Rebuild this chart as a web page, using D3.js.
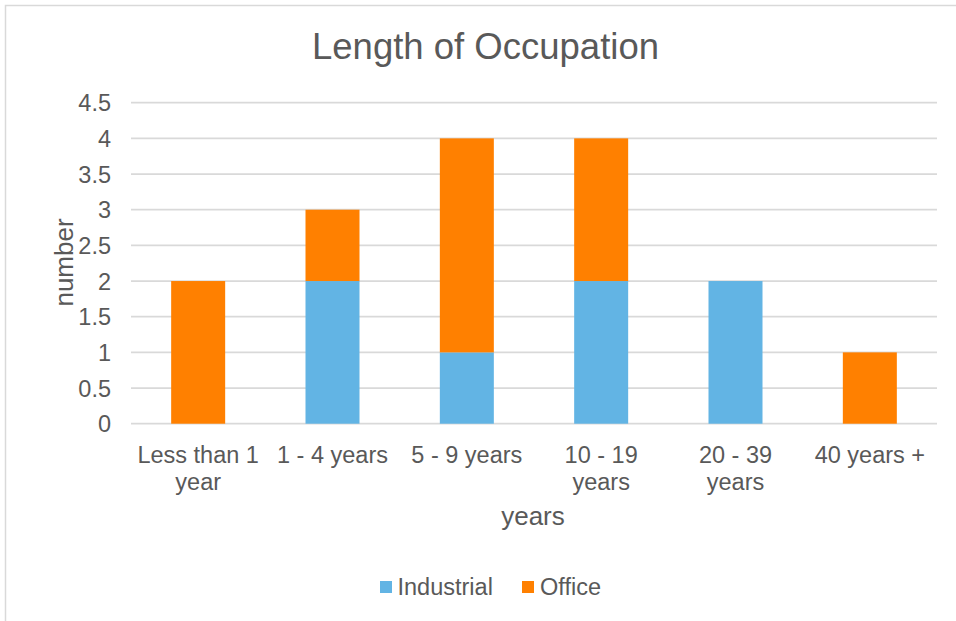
<!DOCTYPE html>
<html>
<head>
<meta charset="utf-8">
<script src="https://cdn.jsdelivr.net/npm/d3@7/dist/d3.min.js"></script>
<style>
  html, body { margin: 0; padding: 0; background: #fff; }
  svg { display: block; font-family: "Liberation Sans", Arial, sans-serif; }
</style>
</head>
<body>
<svg id="chart" width="956" height="621"></svg>
<script>
// Chart data
const categories = [["Less than 1", "year"], ["1 - 4 years"], ["5 - 9 years"], ["10 - 19", "years"], ["20 - 39", "years"], ["40 years +"]];
const seriesNames = ["Industrial", "Office"];
const industrial = [0, 2, 1, 2, 2, 0];
const office = [2, 1, 3, 2, 0, 1];
const yTicks = [0, 0.5, 1, 1.5, 2, 2.5, 3, 3.5, 4, 4.5];
const colors = ["#62B4E4", "#FF8000"];

const svg = d3.select("#chart");
const textColor = "#595959";
const gridColor = "#D9D9D9";

// Outer chart frame
svg.append("rect")
  .attr("x", 5.5).attr("y", 5.5)
  .attr("width", 1000).attr("height", 1000)
  .attr("fill", "none").attr("stroke", gridColor).attr("stroke-width", 1.5);

const plot = { left: 131, right: 937, top: 102.7, bottom: 423.7 };

const keys = categories.map((c, i) => i);
const x = d3.scaleBand().domain(keys)
  .range([plot.left, plot.right])
  .paddingInner(0.598).paddingOuter(0.299);
const y = d3.scaleLinear().domain([0, 4.5]).range([plot.bottom, plot.top]);

// Title
svg.append("text")
  .attr("x", 485.5).attr("y", 59)
  .attr("text-anchor", "middle")
  .attr("font-size", 36.5)
  .attr("fill", textColor)
  .text("Length of Occupation");

// Horizontal gridlines
svg.append("g").selectAll("line").data(yTicks).join("line")
  .attr("x1", plot.left).attr("x2", plot.right)
  .attr("y1", d => y(d)).attr("y2", d => y(d))
  .attr("stroke", gridColor).attr("stroke-width", 1.7);

// Y axis labels
const yAxis = d3.axisLeft(y).tickValues(yTicks).tickSize(0).tickPadding(0)
  .tickFormat(d => String(d));
svg.append("g")
  .attr("transform", `translate(111,0)`)
  .call(yAxis)
  .call(g => g.select(".domain").remove())
  .call(g => g.selectAll("text")
    .attr("font-size", 23.5)
    .attr("font-family", "Liberation Sans, Arial, sans-serif")
    .attr("fill", textColor)
    .attr("dy", "0.34em"));

// Stacked bars
const rows = keys.map(i => ({ i, Industrial: industrial[i], Office: office[i] }));
const stacked = d3.stack().keys(seriesNames)(rows);
svg.append("g").selectAll("g").data(stacked).join("g")
  .attr("fill", (d, i) => colors[i])
  .selectAll("rect").data(d => d).join("rect")
  .attr("x", d => x(d.data.i))
  .attr("width", x.bandwidth())
  .attr("y", d => y(d[1]))
  .attr("height", d => y(d[0]) - y(d[1]));

// Category labels (wrapped onto two lines where needed)
const xAxis = d3.axisBottom(x).tickSize(0).tickFormat(() => "");
const xg = svg.append("g")
  .attr("transform", `translate(0,${plot.bottom})`)
  .call(xAxis)
  .call(g => g.select(".domain").remove());
xg.selectAll(".tick").each(function(d) {
  const t = d3.select(this).select("text")
    .attr("font-size", 23.5)
    .attr("font-family", "Liberation Sans, Arial, sans-serif")
    .attr("fill", textColor)
    .attr("y", 0).attr("dy", null);
  categories[d].forEach((line, k) => {
    t.append("tspan").attr("x", 0).attr("y", 39.5 + k * 27).text(line);
  });
});

// Axis titles
svg.append("text")
  .attr("x", 533).attr("y", 525)
  .attr("text-anchor", "middle")
  .attr("font-size", 26)
  .attr("fill", textColor)
  .text("years");

svg.append("text")
  .attr("transform", "translate(73,262.5) rotate(-90)")
  .attr("text-anchor", "middle")
  .attr("font-size", 26)
  .attr("fill", textColor)
  .text("number");

// Legend
const legendItems = [{ name: "Industrial", sx: 380, tx: 397.5 }, { name: "Office", sx: 522, tx: 540 }];
const lg = svg.append("g");
lg.selectAll("rect").data(legendItems).join("rect")
  .attr("x", d => d.sx).attr("y", 581)
  .attr("width", 12).attr("height", 12)
  .attr("fill", (d, i) => colors[i]);
lg.selectAll("text").data(legendItems).join("text")
  .attr("x", d => d.tx).attr("y", 594.5)
  .attr("font-size", 23.5)
  .attr("fill", textColor)
  .text(d => d.name);
</script>
</body>
</html>
